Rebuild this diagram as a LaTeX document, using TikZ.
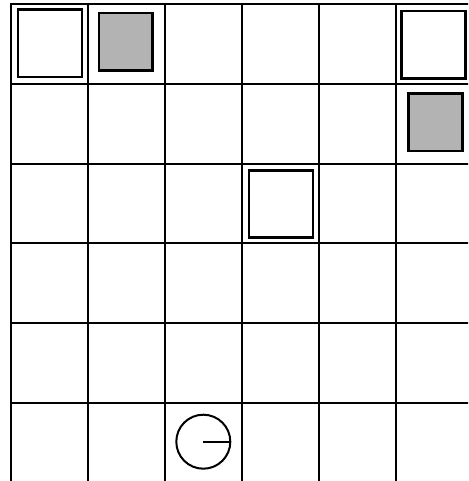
\documentclass[tikz,border=0pt]{standalone}
\usepackage{tikz}
\usetikzlibrary{positioning}
\definecolor{ink}{HTML}{000000}
\definecolor{cgray}{HTML}{B3B3B3}
\tikzset{
  every picture/.style={line width=2pt,draw=ink},
  gridln/.style={draw=ink,line width=2pt},
  bx/.style={draw=ink,line width=2.6pt,fill=white,inner sep=0pt},
  bxw/.style={bx,minimum width=64pt,minimum height=67.5pt},
  bxg/.style={bx,fill=cgray,minimum width=53.5pt,minimum height=57.5pt},
  bot/.style={circle,draw=ink,line width=2pt,minimum size=54pt,inner sep=0pt},
}
\begin{document}
\begin{tikzpicture}[x=1pt,y=-1pt]
  \useasboundingbox (0,0) rectangle (468,481);
  \clip (0,0) rectangle (468,481);
  % grid
  \foreach \i in {0,...,6}
    \draw[gridln] (11+77*\i,3) -- (11+77*\i,490);
  \foreach \j in {0,...,6}
    \draw[gridln] (10,4+79.8*\j) -- (480,4+79.8*\j);
  % boxes
  \node[bxw] (wa) at (50,43.3) {};
  \node[bxg] (ga) at (125.8,41.7) {};
  \node[bxw] (wb) at (433.7,44.7) {};
  \node[bxg] (gb) at (435.5,122.3) {};
  \node[bxw] (wc) at (280.8,204) {};
  % robot
  \node[bot] (rb) at (203.3,441.7) {};
  \draw (rb.center) -- (rb.east);
\end{tikzpicture}
\end{document}
